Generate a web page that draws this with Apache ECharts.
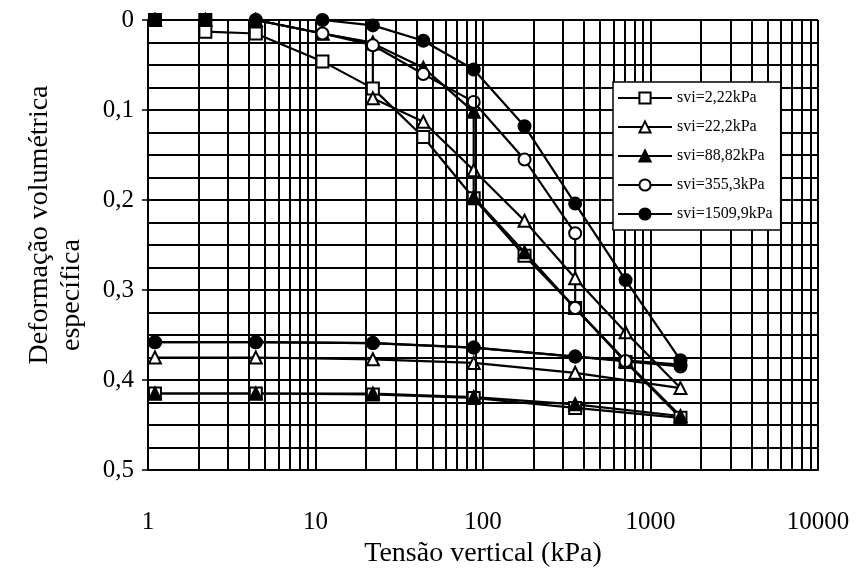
<!DOCTYPE html>
<html>
<head>
<meta charset="utf-8">
<script src="https://cdn.jsdelivr.net/npm/echarts@6/dist/echarts.min.js"></script>
<style>
  html, body { margin: 0; padding: 0; background: #fff; }
  #chart { width: 858px; height: 580px; }
</style>
</head>
<body>
<div id="chart"></div>
<script>
  // tensão vertical (kPa) e deformação volumétrica específica
  var svi222X  = [1.1, 2.2, 2.2, 4.4, 11, 22, 44, 88, 177, 355, 710, 1510, 355, 88, 22, 4.4, 1.1];
  var svi222Y  = [0, 0, 0.013, 0.015, 0.046, 0.076, 0.13, 0.198, 0.262, 0.32, 0.38, 0.442, 0.431, 0.42, 0.416, 0.415, 0.415];

  var svi222bX = [1.1, 2.2, 4.4, 11, 22, 22, 44, 88, 177, 355, 710, 1510, 355, 88, 22, 4.4, 1.1];
  var svi222bY = [0, 0, 0, 0.015, 0.025, 0.087, 0.113, 0.167, 0.223, 0.287, 0.347, 0.409, 0.392, 0.381, 0.377, 0.375, 0.375];

  var svi8882X = [1.1, 2.2, 4.4, 11, 22, 44, 88, 88, 177, 355, 710, 1510, 355, 88, 22, 4.4, 1.1];
  var svi8882Y = [0, 0, 0, 0.015, 0.026, 0.053, 0.102, 0.197, 0.258, 0.32, 0.379, 0.44, 0.427, 0.419, 0.415, 0.415, 0.415];

  var svi3553X = [1.1, 2.2, 4.4, 11, 22, 44, 88, 177, 355, 355, 710, 1510, 355, 88, 22, 4.4, 1.1];
  var svi3553Y = [0, 0, 0, 0.015, 0.028, 0.06, 0.091, 0.155, 0.237, 0.32, 0.379, 0.385, 0.374, 0.364, 0.359, 0.358, 0.358];

  var svi15099X = [1.1, 2.2, 4.4, 11, 22, 44, 88, 177, 355, 710, 1510, 1510, 355, 88, 22, 4.4, 1.1];
  var svi15099Y = [0, 0, 0, 0, 0.006, 0.023, 0.055, 0.118, 0.204, 0.289, 0.378, 0.383, 0.374, 0.364, 0.359, 0.358, 0.358];

  var seriesNames = ['svi=2,22kPa', 'svi=22,2kPa', 'svi=88,82kPa', 'svi=355,3kPa', 'svi=1509,9kPa'];
  var xTicks = [1, 10, 100, 1000, 10000];

  // linhas de grade secundárias do eixo log (2..9 em cada década)
  var minorGridX = [];
  xTicks.slice(0, -1).forEach(function (d) {
    for (var k = 2; k <= 9; k++) minorGridX.push(d * k);
  });

  var FONT = '"Liberation Serif", "DejaVu Serif", serif';

  function pairs(xs, ys) {
    return xs.map(function (x, i) { return [x, ys[i]]; });
  }

  function makeSeries(name, xs, ys, symbol, filled) {
    return {
      name: name,
      type: 'line',
      data: pairs(xs, ys),
      symbol: symbol,
      symbolSize: 12,
      showAllSymbol: true,
      lineStyle: { color: '#000', width: 2.2 },
      itemStyle: {
        color: filled ? '#000' : '#fff',
        borderColor: '#000',
        borderWidth: 2
      },
      emphasis: { disabled: true },
      z: 3
    };
  }

  var chart = echarts.init(document.getElementById('chart'), null, { renderer: 'canvas' });

  var option = {
    backgroundColor: '#fff',
    animation: false,
    grid: { left: 148, right: 40, top: 20, bottom: 110 },
    legend: {
      orient: 'vertical',
      left: 613,
      top: 82,
      z: 20,
      data: seriesNames,
      itemWidth: 54,
      itemHeight: 14,
      itemGap: 13,
      padding: [8, 8, 8, 4],
      borderColor: '#000',
      borderWidth: 1.5,
      backgroundColor: '#fff',
      textStyle: { fontFamily: FONT, fontSize: 16, color: '#000' },
      selectedMode: false
    },
    graphic: [
      {
        type: 'text', x: 40, y: 225, rotation: Math.PI / 2,
        style: { text: 'Deformação volumétrica', font: '28px ' + FONT, fill: '#000', align: 'center', verticalAlign: 'middle' }
      },
      {
        type: 'text', x: 72, y: 295, rotation: Math.PI / 2,
        style: { text: 'específica', font: '28px ' + FONT, fill: '#000', align: 'center', verticalAlign: 'middle' }
      }
    ],
    xAxis: {
      type: 'log',
      logBase: 10,
      min: 1,
      max: 10000,
      name: 'Tensão vertical (kPa)',
      nameLocation: 'middle',
      nameGap: 59,
      nameTextStyle: { fontFamily: FONT, fontSize: 28, color: '#000' },
      axisLine: { show: true, onZero: false, lineStyle: { color: '#000', width: 2 } },
      axisTick: { show: false },
      axisLabel: {
        fontFamily: FONT, fontSize: 25, color: '#000', margin: 40,
        formatter: function (v) { return String(v); }
      },
      splitLine: { show: true, lineStyle: { color: '#000', width: 2 } }
    },
    yAxis: {
      type: 'value',
      inverse: true,
      min: 0,
      max: 0.5,
      interval: 0.1,
      axisLine: { show: true, lineStyle: { color: '#000', width: 2 } },
      axisTick: { show: true, length: 6, lineStyle: { color: '#000', width: 1.5 } },
      axisLabel: {
        fontFamily: FONT, fontSize: 25, color: '#000', margin: 14,
        formatter: function (v) { return String(+v.toFixed(2)).replace('.', ','); }
      },
      splitLine: { show: true, lineStyle: { color: '#000', width: 2 } },
      minorTick: { show: false, splitNumber: 4 },
      minorSplitLine: { show: true, lineStyle: { color: '#000', width: 2 } }
    },
    series: [
      {
        name: 'grade',
        type: 'line',
        data: [],
        silent: true,
        z: 1,
        markLine: {
          silent: true,
          symbol: 'none',
          label: { show: false },
          lineStyle: { color: '#000', width: 2, type: 'solid' },
          emphasis: { disabled: true },
          data: minorGridX.map(function (v) { return { xAxis: v }; })
        }
      },
      makeSeries(seriesNames[0], svi222X, svi222Y, 'rect', false),
      makeSeries(seriesNames[1], svi222bX, svi222bY, 'triangle', false),
      makeSeries(seriesNames[2], svi8882X, svi8882Y, 'triangle', true),
      makeSeries(seriesNames[3], svi3553X, svi3553Y, 'circle', false),
      makeSeries(seriesNames[4], svi15099X, svi15099Y, 'circle', true)
    ]
  };

  chart.setOption(option);
</script>
</body>
</html>
